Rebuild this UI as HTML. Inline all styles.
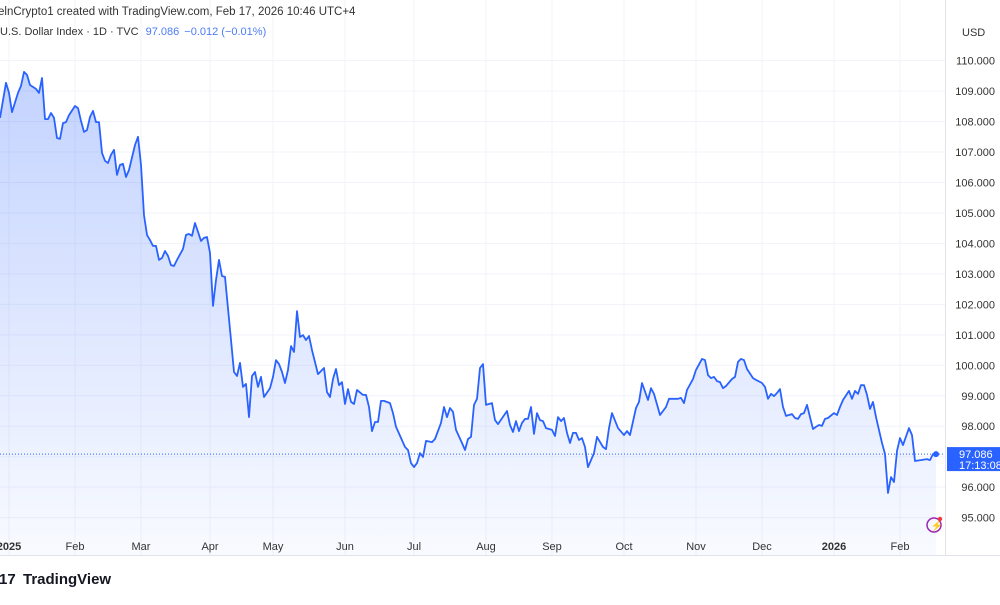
<!DOCTYPE html>
<html><head><meta charset="utf-8">
<style>
html,body{margin:0;padding:0;background:#fff;}
body{width:1000px;height:600px;overflow:hidden;font-family:"Liberation Sans",sans-serif;}
svg text{font-family:"Liberation Sans",sans-serif;}
</style></head>
<body>
<svg id="chart" width="1000" height="600" viewBox="0 0 1000 600" xmlns="http://www.w3.org/2000/svg">
<defs>
<linearGradient id="fillGrad" x1="0" y1="0" x2="0" y2="1">
<stop offset="0" stop-color="#2962ff" stop-opacity="0.28"/>
<stop offset="1" stop-color="#2962ff" stop-opacity="0.03"/>
</linearGradient>
</defs>
<g id="grid"></g>
<g id="series"></g>
<g id="axes"></g>
<text x="-2" y="15" font-size="11.5" fill="#333">elnCrypto1 created with TradingView.com, Feb 17, 2026 10:46 UTC+4</text>
<text x="0" y="35" font-size="11" fill="#333">U.S. Dollar Index · 1D · TVC <tspan fill="#4c7cf5" dx="4">97.086</tspan><tspan fill="#4c7cf5" dx="5">−0.012 (−0.01%)</tspan></text>
<text x="962" y="36" font-size="11" fill="#333">USD</text>
<g>
<text x="-1" y="584" font-size="15" font-weight="bold" fill="#131722">17</text>
<text x="23" y="584" font-size="15" font-weight="bold" fill="#131722">TradingView</text>
</g>
<g>
<circle cx="934" cy="525" r="7" fill="none" stroke="#9c27b0" stroke-width="1.5"/>
<text x="930.5" y="529" font-size="10" fill="#9c27b0">⚡</text>
<circle cx="940" cy="519" r="2.2" fill="#f23645"/>
</g>
</svg>
<script>
const values = [108.12,109.27,108.94,108.31,108.94,109.17,109.63,109.53,109.20,109.07,108.94,109.43,108.08,108.08,108.28,108.12,107.46,107.43,107.95,107.98,108.21,108.51,108.44,108.02,107.66,107.72,108.15,108.35,107.98,107.98,106.97,106.71,106.64,106.91,107.07,106.25,106.58,106.61,106.18,106.41,107.23,107.50,106.58,104.93,104.28,104.11,103.92,103.92,103.46,103.52,103.75,103.59,103.29,103.26,103.46,103.82,104.28,104.31,104.25,104.67,104.38,104.08,104.18,104.21,103.69,101.95,102.80,103.46,102.93,102.90,100.83,99.78,99.65,100.08,99.29,99.39,98.30,99.65,99.78,99.29,99.62,98.96,99.25,99.62,100.17,100.04,99.78,99.42,99.85,100.63,100.44,101.78,100.93,100.99,100.83,100.96,100.50,99.71,99.91,99.12,98.96,99.55,99.88,99.35,99.45,98.73,99.22,98.80,98.73,99.19,99.03,99.03,98.63,97.84,98.14,98.14,98.83,98.83,98.76,98.43,97.98,97.32,97.22,96.79,96.66,96.79,97.12,96.99,97.52,97.48,97.58,98.11,98.63,98.30,98.60,98.47,97.88,97.45,97.22,97.58,97.65,98.70,98.90,99.91,100.04,98.70,98.76,98.20,98.07,98.50,98.04,97.81,98.17,97.84,98.11,98.24,98.24,98.63,97.75,98.43,98.20,98.17,97.94,97.88,97.68,98.30,98.17,98.27,97.78,97.45,97.78,97.78,97.55,97.61,97.32,96.66,97.12,97.65,97.32,97.25,97.94,98.43,97.94,97.71,97.84,97.71,98.60,98.80,99.42,98.86,99.25,99.06,98.37,98.63,98.90,98.90,98.93,98.76,99.19,99.55,99.85,100.21,100.17,99.68,99.58,99.62,99.48,99.45,99.25,99.32,99.55,99.62,100.11,100.21,100.17,99.88,99.58,99.52,99.42,99.29,98.90,99.06,98.99,99.09,99.22,98.63,98.34,98.40,98.27,98.24,98.40,98.43,98.70,98.30,97.91,97.98,98.04,98.01,98.24,98.27,98.43,98.37,98.63,98.86,99.16,98.90,99.16,99.06,99.35,99.35,99.03,98.57,98.80,98.30,97.45,97.09,95.81,96.33,96.17,97.19,97.61,97.38,97.94,97.71,96.86,96.92,96.89,97.09,97.086];
const barIndex = [0,2,3,4,6,7,8,9,10,12,13,14,15,16,17,18,19,20,21,22,23,25,26,27,28,29,30,31,32,33,34,35,36,37,38,39,40,41,42,43,45,46,47,48,49,50,51,52,53,54,55,56,57,58,59,61,62,63,64,65,66,67,68,69,70,71,72,73,74,75,77,78,79,80,81,82,83,84,85,86,87,88,90,91,92,93,94,95,96,97,98,99,100,101,102,103,104,106,108,109,110,111,112,113,114,115,116,117,118,119,121,122,123,124,125,126,127,128,130,131,132,135,136,137,138,139,140,141,142,144,145,147,148,149,150,151,152,154,155,156,157,158,159,160,161,162,164,165,166,169,170,171,172,173,174,175,176,177,178,179,180,181,182,184,185,186,187,188,189,190,191,192,193,194,195,196,198,199,201,202,203,204,206,208,209,210,212,213,214,216,217,218,220,222,223,226,227,228,229,231,232,234,235,236,237,238,239,240,241,242,244,245,246,247,248,249,251,252,254,255,256,257,258,259,260,261,262,264,265,266,267,268,269,270,271,272,273,274,275,276,278,279,280,281,283,284,285,286,287,288,289,290,291,292,294,295,296,297,298,299,300,301,303,304,305,309,310,311,312];
const yTicks = [95,96,97,98,99,100,101,102,103,104,105,106,107,108,109,110];
const monthLabels = ["2025","Feb","Mar","Apr","May","Jun","Jul","Aug","Sep","Oct","Nov","Dec","2026","Feb"];
const monthStartBar = [3,25,47,70,91,115,138,162,184,208,232,254,278,300];
const lastPrice = 97.086;
const lastTime = "17:13:08";

const NS="http://www.w3.org/2000/svg";
const axisX=945, bottomY=555, barWidth=3;
function yScale(v){return 365.3-(v-100)*30.47;}
function xScale(b){return b*barWidth;}
function mk(tag,attrs,parent){const e=document.createElementNS(NS,tag);for(const k in attrs)e.setAttribute(k,attrs[k]);parent.appendChild(e);return e;}

const grid=document.getElementById('grid'), series=document.getElementById('series'), axes=document.getElementById('axes');
yTicks.forEach(v=>{
  const l=mk('line',{x1:0,x2:axisX,y1:yScale(v),y2:yScale(v),stroke:'#f0f3fa','stroke-width':1},grid);
  
  
  const t=mk('text',{x:995,y:yScale(v)+4,'font-size':11,fill:'#333','text-anchor':'end'},axes);
  t.textContent=v.toFixed(3);
  
  
});
monthLabels.forEach((m,k)=>{
  const x=xScale(monthStartBar[k]);
  const l=mk('line',{x1:x,x2:x,y1:0,y2:bottomY,stroke:'#f0f3fa','stroke-width':1},grid);
  
  
  const bold=/^\d{4}$/.test(m);
  const t=mk('text',{x:x,y:550,'font-size':11,fill:'#333','text-anchor':'middle','font-weight':bold?'bold':'normal'},axes);
  t.textContent=m;
  
  
});
const axl=mk('line',{x1:axisX+0.5,x2:axisX+0.5,y1:0,y2:bottomY,stroke:'#e0e3eb'},axes);


const bxl=mk('line',{x1:0,x2:1000,y1:bottomY+0.5,y2:bottomY+0.5,stroke:'#e0e3eb'},axes);



const n=values.length;
let d='';
values.forEach((v,i)=>{d+=(i?'L':'M')+xScale(barIndex[i]).toFixed(1)+','+yScale(v).toFixed(1);});
const lastX=xScale(barIndex[n-1]);
const area=mk('path',{d:d+'L'+lastX+','+bottomY+'L'+xScale(barIndex[0])+','+bottomY+'Z',fill:'url(#fillGrad)'},series);


const ly=yScale(lastPrice);
const dl=mk('line',{x1:0,x2:axisX,y1:ly,y2:ly,stroke:'#2962ff','stroke-width':1,'stroke-dasharray':'1,2'},series);


const line=mk('path',{d:d,fill:'none',stroke:'#2962ff','stroke-width':1.8,'stroke-linejoin':'round'},series);


const dot=mk('circle',{cx:lastX,cy:ly,r:3,fill:'#2962ff'},series);


const box=mk('rect',{x:947,y:ly-7,width:53,height:24,fill:'#2962ff'},axes);


const bt=mk('text',{x:959,y:ly+4,'font-size':11,fill:'#fff'},axes);
bt.textContent=lastPrice.toFixed(3);


const bt2=mk('text',{x:959,y:ly+15,'font-size':11,fill:'#fff'},axes);
bt2.textContent=lastTime;


</script>
</body></html>
